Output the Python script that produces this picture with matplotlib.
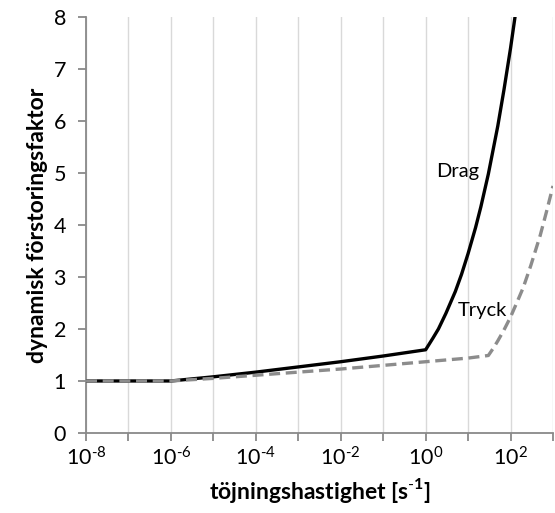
import numpy as np
import matplotlib
matplotlib.use('Agg')
import matplotlib.pyplot as plt

plt.rcParams['font.family'] = ['Lato', 'DejaVu Sans']
plt.rcParams['mathtext.fontset'] = 'custom'
plt.rcParams['mathtext.rm'] = 'Lato'
plt.rcParams['mathtext.bf'] = 'Lato:bold'

# Drag (tension)
drag_x = [1e-8, 1e-6, 1e-5, 1e-4, 1e-3, 1e-2, 1e-1, 1,
          1.5, 2, 3, 5, 7, 10, 15, 20, 30, 50, 70, 100, 130]
drag_y = [1.0, 1.0, 1.08, 1.17, 1.27, 1.37, 1.48, 1.6,
          1.83, 2.0, 2.3, 2.72, 3.05, 3.45, 3.95, 4.35, 4.98, 5.9, 6.6, 7.4, 8.05]

# Tryck (compression)
tryck_x = [1e-8, 1e-6, 1e-5, 1e-4, 1e-3, 1e-2, 1e-1, 1, 10, 30,
           40, 50, 70, 100, 150, 200, 300, 500, 700, 1000]
tryck_y = [1.0, 1.0, 1.05, 1.11, 1.17, 1.23, 1.3, 1.37, 1.44, 1.49,
           1.64, 1.77, 1.98, 2.23, 2.56, 2.8, 3.22, 3.8, 4.25, 4.75]

decades = np.arange(-8, 4)
tick_labels = ['$\\mathrm{10^{\\text{-}%d}}$' % -d if d < 0 else
               ('$\\mathrm{10^{%d}}$' % d if d % 2 == 0 and d < 3 else '')
               for d in decades]
tick_labels = [t if (d % 2 == 0 and d < 3) else '' for t, d in zip(tick_labels, decades)]

fig = plt.figure(figsize=(5.55, 5.13), dpi=100)
ax = fig.add_axes([0.155, 0.156, 0.8414, 0.811])

ax.plot(drag_x, drag_y, color='black', lw=2.4, zorder=3)
ax.plot(tryck_x, tryck_y, color='#8c8c8c', lw=2.4, ls=(0, (3.3, 1.7)), zorder=4)

ax.set_xscale('log')
ax.set_xlim(1e-8, 1e3)
ax.set_ylim(0, 8)
ax.set_xticks([10.0**d for d in decades])
ax.set_xticklabels(tick_labels)
ax.minorticks_off()
ax.set_yticks(range(0, 9))

ax.grid(axis='x', color='#d9d9d9', lw=1)
ax.set_axisbelow(True)
for s in ['top', 'right']:
    ax.spines[s].set_visible(False)
for s in ['left', 'bottom']:
    ax.spines[s].set_color('#898989')
    ax.spines[s].set_linewidth(1.3)
ax.tick_params(axis='both', colors='#898989', length=5.5, width=1.3,
               labelsize=15.5, labelcolor='black', direction='out')
ax.tick_params(axis='x', pad=4)
ax.tick_params(axis='y', pad=9)

ax.text(5.6, 5.03, 'Drag', fontsize=14.5, ha='center', va='center')
ax.text(22, 2.35, 'Tryck', fontsize=14.5, ha='center', va='center')

ax.set_xlabel('töjningshastighet [s$^{\\mathbf{\\text{-}1}}$]', fontsize=16.5, fontweight='bold', labelpad=5)
ax.set_ylabel('dynamisk förstoringsfaktor', fontsize=16.5, fontweight='bold', labelpad=4)

fig.savefig('out.png', dpi=100)
